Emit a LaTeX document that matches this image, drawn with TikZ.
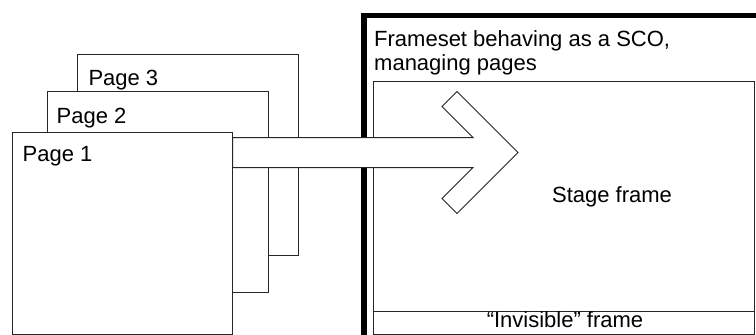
\documentclass[tikz,border=0pt]{standalone}
\usepackage{fontspec}
\setmainfont{Liberation Sans}
\usetikzlibrary{calc}
\begin{document}
\begin{tikzpicture}[x=1pt,y=-1pt,
  thin line/.style={draw=black!85,line width=1pt},
  pagebox/.style={thin line,fill=white,anchor=north west,inner sep=0pt,outer sep=0pt},
  lbl/.style={inner sep=0pt,anchor=base west,font=\fontsize{22}{26}\selectfont},
  clbl/.style={inner sep=0pt,anchor=base,font=\fontsize{22}{26}\selectfont}]
\useasboundingbox (0,0) rectangle (756,335);
\clip (0,0) rectangle (756,335);
% frameset (thick outer frame)
\draw[line width=5.5pt,black] (364,15.7) rectangle (790,360);
% inner frames
\node[pagebox,minimum width=380.7pt,minimum height=229.5pt] (stage) at (373.3,81.5) {};
\node[pagebox,minimum width=380.7pt,minimum height=23pt] (invis) at (373.3,311) {};
\node[lbl] (fstxt) at (374,46) {Frameset behaving as a SCO,};
\node[lbl] (fstxt2) at (374,70.5) {managing pages};
\node[clbl] (stxt) at (612,202.3) {Stage frame};
\node[clbl] (itxt) at (565,327.3) {“Invisible” frame};
% pages
\node[pagebox,minimum width=220.6pt,minimum height=201pt] (p3) at (77.7,54) {};
\node[lbl] (p3t) at ($(p3.north west)+(10.6,31)$) {Page 3};
\node[pagebox,minimum width=221pt,minimum height=200.6pt] (p2) at (47.3,91.7) {};
\node[lbl] (p2t) at ($(p2.north west)+(9.2,31.6)$) {Page 2};
\node[pagebox,minimum width=220.4pt,minimum height=201.3pt] (p1) at (12.3,132.7) {};
\node[lbl] (p1t) at ($(p1.north west)+(10.2,29.2)$) {Page 1};
% block arrow from page 1 into the stage frame
\coordinate (a0) at (p1.north east |- 0,137.5);
\coordinate (a9) at (p1.north east |- 0,167.5);
\draw[thin line,fill=white,line join=miter]
  (a0) -- (473,137.5) -- (442,106.5) -- (457,91.5) -- (518,152.5)
  -- (457,213.5) -- (442,198.5) -- (473,167.5) -- (a9) -- cycle;
\end{tikzpicture}
\end{document}
